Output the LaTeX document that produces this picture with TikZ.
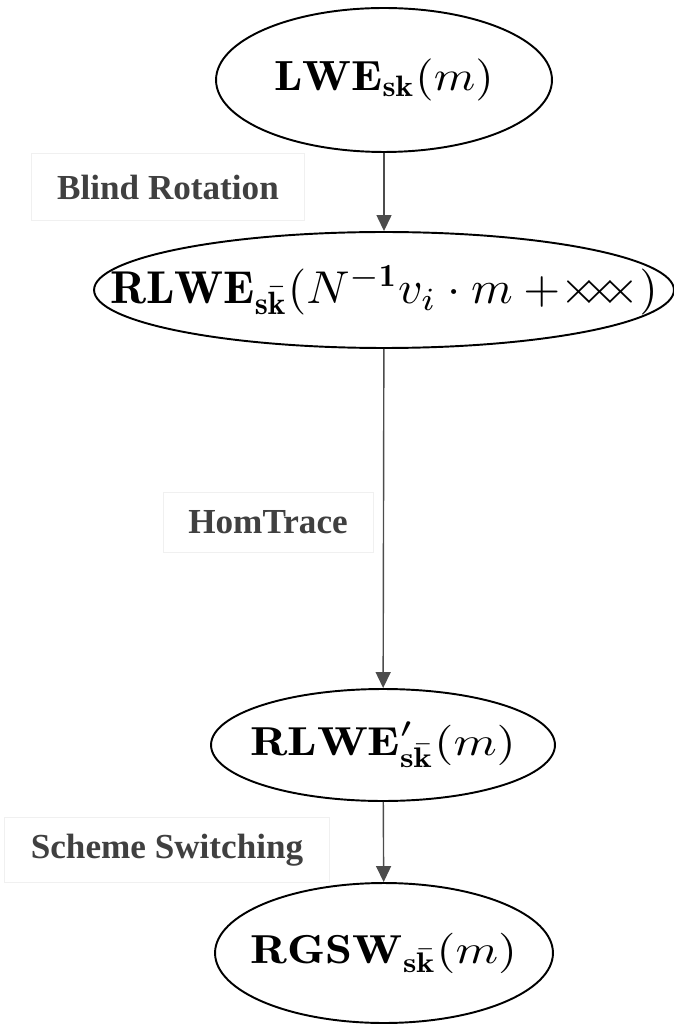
\documentclass[tikz,border=0pt]{standalone}
\usepackage{graphicx}
\usepackage{fontspec}
\newfontfamily\labelfont{Liberation Serif}
\usetikzlibrary{shapes.geometric,arrows.meta}
\tikzset{
  cipher/.style={ellipse,draw,line width=1.1pt,inner sep=0pt},
  steplabel/.style={draw=black!6,text=black!75,font=\labelfont\bfseries\fontsize{20}{24}\selectfont},
  flow/.style={-{Triangle[length=0.32cm,width=0.3cm]},line width=0.8pt,draw=black!70,fill=black!80}
}
\newcommand{\skbar}{\mathbf{s}\bar{\mathbf{k}}}
% #1 horizontal scale, #2 vertical scale, #3 formula
\newcommand{\cipherbox}[3]{\makebox[0pt]{\scalebox{#1}[#2]{$#3$}}}
\begin{document}
\begin{tikzpicture}[x=0.02cm,y=-0.02cm]
            \useasboundingbox (0,0) rectangle (673,1026);
            % Ciphertexts
            \node[cipher,minimum width=6.72cm,minimum height=2.88cm] (lwe) at (384,80) {\cipherbox{2.69}{2.4}{\mathbf{LWE}_{\mathbf{sk}}(m)}};
            \node[cipher,minimum width=11.6cm,minimum height=2.32cm] (rlwe) at (384,290) {\cipherbox{2.7}{2.62}{\mathbf{RLWE}_{\skbar}(N^{-\mathbf{1}}v_i\cdot m+\mskip-\medmuskip{\times}\!\!{\times}\!\!{\times})}};
            \node[cipher,minimum width=6.88cm,minimum height=2.24cm] (rlwep) at (383,745) {\cipherbox{2.8}{2.3}{\mathbf{RLWE}'_{\skbar}(m)}};
            \node[cipher,minimum width=6.76cm,minimum height=2.8cm] (rgsw) at (384,953) {\cipherbox{2.76}{2.3}{\mathbf{RGSW}_{\skbar}(m)}};
            % Edges
            \draw[flow] (lwe) -- (rlwe);
            \draw[flow] (rlwe) -- (rlwep);
            \draw[flow] (rlwep) -- (rgsw);
            % Labels
            \node[steplabel,minimum width=5.46cm,minimum height=1.34cm] (br) at (168,187) {Blind Rotation};
            \node[steplabel,minimum width=4.2cm,minimum height=1.2cm] (ht) at (268,522) {HomTrace};
            \node[steplabel,minimum width=6.5cm,minimum height=1.3cm] (ss) at (167,850) {Scheme Switching};
          \end{tikzpicture}
\end{document}
